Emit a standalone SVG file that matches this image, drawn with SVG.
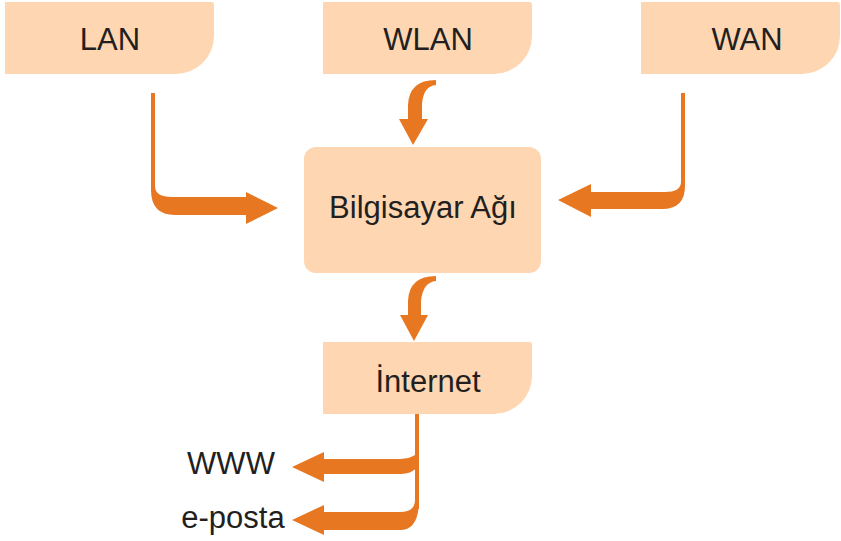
<svg xmlns="http://www.w3.org/2000/svg" width="841" height="541" viewBox="0 0 841 541">
<style>
.box{fill:#FED6B1}
.lbl{font-family:"Liberation Sans",Arial,sans-serif;font-size:31px;fill:#231F20;text-anchor:middle}
.arr{fill:#E87722}
</style>
<rect width="841" height="541" fill="#fff"/>
<g id="lan"><path class="box" d="M5,2 H212 Q214,2 214,6 V36 A38,38 0 0 1 176,74 H5 Z"/><text class="lbl" x="110" y="50">LAN</text></g>
<g id="wlan"><path class="box" d="M323,2 H530 Q532,2 532,6 V36 A38,38 0 0 1 494,74 H323 Z"/><text class="lbl" x="428" y="50">WLAN</text></g>
<g id="wan"><path class="box" d="M641,2 H838 Q840,2 840,6 V36 A38,38 0 0 1 802,74 H641 Z"/><text class="lbl" x="747" y="50">WAN</text></g>
<g id="bilgisayar"><rect class="box" x="304" y="147" width="237" height="126" rx="12"/><text class="lbl" x="423" y="218">Bilgisayar Ağı</text></g>
<g id="internet"><path class="box" d="M323,342 H530 Q532,342 532,346 V376 A38,38 0 0 1 494,414 H323 Z"/><text class="lbl" x="428" y="392">İnternet</text></g>
<g id="www"><text class="lbl" x="231" y="474">WWW</text></g>
<g id="eposta"><text class="lbl" x="233" y="528">e-posta</text></g>
<g id="connectors">
<path class="arr" d="M151,93 H155 V186 Q155,197 172,197 H246 V192 L278,208 L246,224 V215 H175 Q151,215 151,190 Z"/>
<path class="arr" d="M681,93 H685 V186 Q685,209 662,209 H591 V217 L558,200 L591,184 V192 H665 Q681,192 681,182 Z"/>
<path class="arr" d="M436,80 L436,85 Q423,86 422,105 V119 H428 L413,145 L399,119 H408 V105 Q409,80 436,80 Z"/>
<path class="arr" d="M436,276 L436,281 Q423,282 421,301 V315 H428 L414,341 L400,315 H408 V301 Q409,276 436,276 Z"/>
<rect class="arr" x="415" y="414" width="4" height="95"/>
<path class="arr" d="M419,447 Q419,458 400,459 H324 V452 L292,467 L324,482 V474 H400 Q415,474 419,463 Z"/>
<path class="arr" d="M415,500 Q415,512 400,512 H324 V505 L292,520 L324,535 V530 H400 Q419,530 419,500 Z"/>
</g>
</svg>
